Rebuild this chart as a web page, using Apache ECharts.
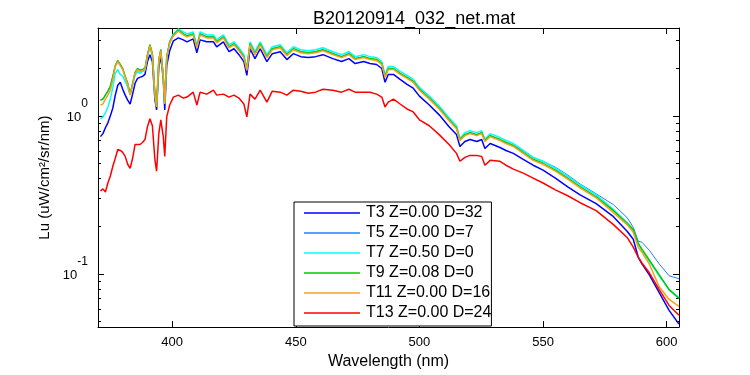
<!DOCTYPE html>
<html>
<head>
<meta charset="utf-8">
<script src="https://cdn.jsdelivr.net/npm/echarts@6/dist/echarts.min.js"></script>
<style>
  html, body { margin: 0; padding: 0; background: #fff; }
  #main { width: 750px; height: 375px; }
</style>
</head>
<body>
<div id="main"></div>
<script>
// wavelength (nm)
var wavelength = [371, 372, 373, 374, 375, 376, 377, 378, 379, 380,
    381, 382, 383, 384, 385, 386, 387, 388, 389, 390,
    391, 392, 393, 393.7, 394.6, 395.4, 396.4, 397, 397.8, 399,
    400.5, 402.5, 404.5, 406, 408.5, 410, 411.3, 414, 416.7, 418,
    420.7, 423, 425, 427, 429, 430.2, 431.5, 433.5, 435.6, 438.3,
    440.5, 443.7, 446.4, 449, 452, 455, 458, 461, 465, 468.5,
    471.5, 474, 477.5, 480, 482.7, 484.8, 486.1, 487.4, 489.5, 492.2,
    495, 497.5, 500, 504, 508, 512, 515, 516.4, 518.4, 520.5,
    523.2, 525.2, 526.5, 528.6, 532.6, 535, 538, 542, 546, 550,
    555, 560, 565, 571.5, 578.5, 584, 586.5, 588.5, 590, 593,
    597, 601, 605];

var t3 = [0.739, 0.772, 0.841, 0.904, 1.000, 1.122, 1.353, 1.562, 1.631, 1.475,
    1.353, 1.259, 1.189, 1.373, 1.608, 1.728, 1.753, 1.778, 1.830, 2.207,
    2.441, 2.207, 1.277, 1.090, 2.024, 2.406, 1.703, 1.090, 2.083, 2.585,
    2.985, 3.117, 3.029, 2.943, 3.073, 2.512, 3.029, 2.943, 2.943, 2.738,
    2.943, 2.548, 2.661, 2.441, 2.207, 1.804, 2.661, 2.304, 2.661, 2.207,
    2.476, 2.548, 2.271, 2.476, 2.371, 2.338, 2.371, 2.441, 2.304, 2.207,
    2.304, 2.144, 2.207, 2.144, 2.114, 1.995, 1.631, 1.830, 1.830, 1.703,
    1.585, 1.496, 1.334, 1.172, 1.015, 0.854, 0.761, 0.640, 0.688, 0.708,
    0.688, 0.708, 0.622, 0.668, 0.631, 0.604, 0.579, 0.531, 0.487, 0.453,
    0.404, 0.355, 0.316, 0.278, 0.230, 0.186, 0.1655, 0.1277, 0.1155, 0.0986,
    0.0760, 0.0587, 0.0480];

var t5 = [1.259, 1.277, 1.353, 1.433, 1.540, 1.778, 2.083, 2.239, 2.114, 1.995,
    1.778, 1.608, 1.373, 1.608, 1.884, 1.995, 1.939, 1.967, 1.995, 2.441,
    2.818, 2.476, 1.392, 1.155, 2.271, 2.623, 1.778, 1.206, 2.371, 2.943,
    3.255, 3.498, 3.302, 3.208, 3.302, 2.738, 3.302, 3.162, 3.162, 2.943,
    3.162, 2.738, 2.859, 2.623, 2.371, 1.967, 2.859, 2.476, 2.859, 2.371,
    2.661, 2.738, 2.441, 2.661, 2.548, 2.512, 2.548, 2.623, 2.476, 2.371,
    2.476, 2.304, 2.371, 2.304, 2.271, 2.144, 1.778, 1.995, 1.995, 1.857,
    1.753, 1.655, 1.475, 1.296, 1.122, 0.944, 0.841, 0.708, 0.761, 0.783,
    0.761, 0.783, 0.698, 0.750, 0.708, 0.678, 0.649, 0.604, 0.546, 0.516,
    0.473, 0.422, 0.3705, 0.321, 0.274, 0.227, 0.197, 0.161, 0.1585, 0.141,
    0.1155, 0.0972, 0.0931];

var t7 = [0.958, 0.986, 1.044, 1.138, 1.277, 1.518, 1.857, 1.967, 1.830, 1.778,
    1.655, 1.518, 1.353, 1.562, 1.804, 1.911, 1.857, 1.911, 1.939, 2.371,
    2.699, 2.406, 1.353, 1.138, 2.207, 2.548, 1.753, 1.206, 2.338, 2.943,
    3.302, 3.548, 3.398, 3.302, 3.398, 2.778, 3.398, 3.255, 3.255, 3.029,
    3.255, 2.818, 2.943, 2.699, 2.441, 1.995, 2.943, 2.548, 2.943, 2.441,
    2.738, 2.818, 2.512, 2.738, 2.623, 2.585, 2.623, 2.699, 2.548, 2.441,
    2.548, 2.371, 2.441, 2.371, 2.338, 2.207, 1.804, 2.054, 2.054, 1.911,
    1.804, 1.703, 1.518, 1.334, 1.155, 0.972, 0.866, 0.718, 0.783, 0.806,
    0.783, 0.806, 0.708, 0.772, 0.729, 0.698, 0.668, 0.604, 0.546, 0.516,
    0.466, 0.416, 0.365, 0.316, 0.255, 0.2113, 0.1911, 0.1540, 0.1413, 0.1206,
    0.0972, 0.0794, 0.0708];

var t9 = [1.259, 1.277, 1.353, 1.433, 1.540, 1.778, 2.083, 2.239, 2.114, 1.995,
    1.778, 1.608, 1.373, 1.608, 1.884, 1.995, 1.939, 1.967, 1.995, 2.441,
    2.818, 2.476, 1.392, 1.155, 2.271, 2.623, 1.778, 1.206, 2.371, 2.943,
    3.255, 3.498, 3.302, 3.208, 3.302, 2.738, 3.302, 3.162, 3.162, 2.943,
    3.162, 2.738, 2.859, 2.623, 2.371, 1.967, 2.859, 2.476, 2.859, 2.371,
    2.661, 2.738, 2.441, 2.661, 2.548, 2.512, 2.548, 2.623, 2.476, 2.371,
    2.476, 2.304, 2.371, 2.304, 2.271, 2.144, 1.778, 1.995, 1.995, 1.857,
    1.753, 1.655, 1.475, 1.296, 1.122, 0.944, 0.841, 0.708, 0.761, 0.783,
    0.761, 0.783, 0.698, 0.750, 0.708, 0.678, 0.649, 0.587, 0.531, 0.501,
    0.453, 0.404, 0.355, 0.307, 0.251, 0.208, 0.191, 0.156, 0.1433, 0.122,
    0.0986, 0.0794, 0.0698];

var t11 = [1.172, 1.189, 1.277, 1.353, 1.454, 1.703, 2.054, 2.207, 2.083, 1.967,
    1.753, 1.585, 1.353, 1.585, 1.857, 1.967, 1.911, 1.939, 1.967, 2.406,
    2.778, 2.441, 1.373, 1.138, 2.239, 2.585, 1.753, 1.189, 2.338, 2.901,
    3.208, 3.448, 3.255, 3.162, 3.255, 2.699, 3.255, 3.117, 3.117, 2.901,
    3.117, 2.699, 2.818, 2.585, 2.338, 1.939, 2.818, 2.441, 2.818, 2.338,
    2.623, 2.699, 2.406, 2.623, 2.512, 2.476, 2.512, 2.585, 2.441, 2.338,
    2.441, 2.271, 2.338, 2.271, 2.239, 2.114, 1.753, 1.967, 1.967, 1.830,
    1.728, 1.631, 1.454, 1.277, 1.106, 0.931, 0.829, 0.698, 0.750, 0.772,
    0.750, 0.772, 0.688, 0.739, 0.698, 0.668, 0.640, 0.579, 0.523, 0.494,
    0.447, 0.398, 0.350, 0.303, 0.244, 0.205, 0.183, 0.1475, 0.137, 0.1155,
    0.0829, 0.0688, 0.0622];

var t13 = [0.335, 0.345, 0.330, 0.376, 0.416, 0.480, 0.539, 0.613, 0.604, 0.587,
    0.554, 0.494, 0.466, 0.539, 0.659, 0.659, 0.659, 0.678, 0.708, 0.854,
    0.958, 0.866, 0.531, 0.447, 0.772, 0.944, 0.739, 0.554, 0.986, 1.172,
    1.315, 1.353, 1.296, 1.315, 1.413, 1.172, 1.413, 1.373, 1.454, 1.353,
    1.373, 1.315, 1.353, 1.296, 1.189, 0.986, 1.373, 1.277, 1.454, 1.223,
    1.433, 1.413, 1.353, 1.454, 1.433, 1.392, 1.413, 1.475, 1.454, 1.413,
    1.475, 1.413, 1.413, 1.413, 1.373, 1.315, 1.138, 1.223, 1.277, 1.189,
    1.106, 1.059, 0.944, 0.866, 0.761, 0.659, 0.579, 0.516, 0.546, 0.562,
    0.562, 0.554, 0.487, 0.523, 0.516, 0.487, 0.460, 0.434, 0.404, 0.376,
    0.340, 0.312, 0.282, 0.251, 0.205, 0.170, 0.1475, 0.1277, 0.1172, 0.1015,
    0.0794, 0.0631, 0.0546];

var names = ['T3 Z=0.00 D=32', 'T5 Z=0.00 D=7', 'T7 Z=0.50 D=0',
    'T9 Z=0.08 D=0', 'T11 Z=0.00 D=16', 'T13 Z=0.00 D=24'];
var colors = ['#0000ff', '#1f80ff', '#00ffff', '#00c800', '#f8a01c', '#ff0000'];
var values = [t3, t5, t7, t9, t11, t13];

var xTicks = [400, 450, 500, 550, 600];
var yMajor = [0.1, 1];
var yMinor = [0.05, 0.06, 0.07, 0.08, 0.09, 0.2, 0.3, 0.4, 0.5, 0.6, 0.7, 0.8, 0.9, 2, 3];

var FONT = 'Liberation Sans, Arial, sans-serif';

window.onload = function () {
    var myChart = echarts.init(document.getElementById('main'));

    function pairs(ys) {
        return wavelength.map(function (w, i) { return [w, ys[i]]; });
    }

    var series = names.map(function (n, i) {
        return {
            name: n,
            type: 'line',
            symbol: 'none',
            data: pairs(values[i]),
            lineStyle: { color: colors[i], width: i === 1 ? 1 : 1.5 },
            itemStyle: { color: colors[i] },
            z: 2 + i
        };
    });

    // log axes: one for big ticks + labels, one for the small ticks, on each side
    function yAx(pos, ticks, len, labels, line) {
        return {
            type: 'log', logBase: 10, min: 0.046, max: 3.6,
            position: pos,
            splitLine: { show: false },
            axisLine: { show: line, lineStyle: { color: '#000', width: 1 } },
            axisTick: { show: true, inside: true, length: len, customValues: ticks,
                lineStyle: { color: '#000', width: 1 } },
            axisLabel: labels ? {
                show: true, customValues: ticks, margin: 10,
                padding: [4, 0, 0, 0],
                formatter: function (v) {
                    return '{b|10}{e|' + Math.round(Math.log10(v)) + '}';
                },
                rich: {
                    b: { fontFamily: FONT, fontSize: 13, color: '#000', lineHeight: 13, verticalAlign: 'bottom' },
                    e: { fontFamily: FONT, fontSize: 12, color: '#000', lineHeight: 13, verticalAlign: 'bottom', padding: [0, 0, 15, 0] }
                }
            } : { show: false },
            name: labels ? 'Lu (uW/cm\u00b2/sr/nm)' : '',
            nameLocation: 'middle',
            nameGap: 33,
            nameTextStyle: { fontFamily: FONT, fontSize: 15, color: '#000' }
        };
    }

    function xAx(pos, labels) {
        return {
            type: 'value', min: 370, max: 605,
            position: pos,
            splitLine: { show: false },
            axisLine: { show: true, lineStyle: { color: '#000', width: 1 } },
            axisTick: { show: true, inside: true, length: 6, customValues: xTicks,
                lineStyle: { color: '#000', width: 1 } },
            axisLabel: labels ? { show: true, customValues: xTicks, margin: 9,
                fontFamily: FONT, fontSize: 13, color: '#000' } : { show: false },
            name: labels ? 'Wavelength (nm)' : '',
            nameLocation: 'middle',
            nameGap: 21,
            nameTextStyle: { fontFamily: FONT, fontSize: 16, color: '#000' }
        };
    }

    var option = {
        animation: false,
        backgroundColor: '#fff',
        title: {
            text: 'B20120914_032_net.mat',
            left: 313, top: 10, padding: 0,
            textStyle: { fontFamily: FONT, fontSize: 18, fontWeight: 'normal', color: '#000' }
        },
        legend: {
            data: names,
            orient: 'vertical',
            left: 294, top: 202,
            padding: [3, 0, 5, 10],
            itemGap: 4,
            itemWidth: 56, itemHeight: 15,
            icon: 'path://M0,0L56,0L56,1.6L0,1.6Z',
            backgroundColor: '#fff',
            borderColor: '#000', borderWidth: 1, borderRadius: 0,
            textStyle: { fontFamily: FONT, fontSize: 16, lineHeight: 15, color: '#000', padding: [0, 0, 0, 1] }
        },
        grid: { left: 98, top: 28, right: 71, bottom: 44, containLabel: false },
        xAxis: [xAx('bottom', true), xAx('top', false)],
        yAxis: [
            yAx('left', yMajor, 6, true, true),
            yAx('left', yMinor, 3, false, false),
            yAx('right', yMajor, 6, false, true),
            yAx('right', yMinor, 3, false, false)
        ],
        series: series
    };

    myChart.setOption(option);
};
</script>
</body>
</html>
